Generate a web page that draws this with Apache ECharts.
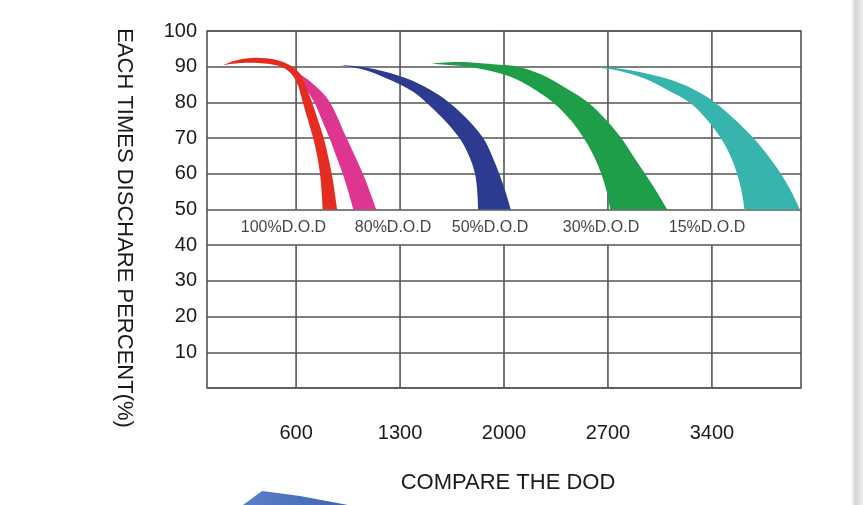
<!DOCTYPE html>
<html><head><meta charset="utf-8">
<script src="https://cdn.jsdelivr.net/npm/echarts@6/dist/echarts.min.js"></script>
<style>html,body{margin:0;padding:0;background:#fff}#c{width:863px;height:505px}</style>
</head><body><div id="c"></div>
<script>
// ---- data ----
const xTicks = [600, 1300, 2000, 2700, 3400];
const dodLabels = ['100%D.O.D', '80%D.O.D', '50%D.O.D', '30%D.O.D', '15%D.O.D'];
const dodLabelX = [515, 1253, 1906, 2653, 3367];
const dodLabelY = 45;
const labelBand = [40, 50];

// each band: outer edge (tip -> bottom) and inner edge (tip -> bottom), [cycles, percent]
const dod100Outer = [[110,90.5],[200,91.8],[327,92.5],[455,92.0],[545,90.7],[600,89.2],[640,87.0],[694,81.5],[740,76.0],[786,70],[820,64],[848,58.1],[876,50]];
const dod100Inner = [[110,90.5],[260,91.1],[410,90.8],[510,89.8],[574,87.7],[615,84.5],[645,80],[680,75],[715,70],[742,65],[761,60],[772,55],[779,50]];
const dod80Outer = [[500,90.6],[560,90.0],[606,88.5],[707,85.4],[828,80],[940,70],[1050,60],[1105,54],[1140,50]];
const dod80Inner = [[500,90.6],[600,87.6],[660,84.0],[723,80],[775,75],[825,70],[870,65],[914,60],[952,55],[986,50]];
const dod50Outer = [[901,90.5],[1050,89.9],[1200,88.6],[1350,86.6],[1500,83.6],[1630,80],[1760,75],[1860,70],[1920,65],[1968,60],[2010,55],[2046,50]];
const dod50Inner = [[901,90.5],[1080,88.9],[1250,86.0],[1380,83.2],[1476,80],[1600,75],[1700,70],[1765,65],[1805,60],[1820,55],[1826,50]];
const dod30Outer = [[1489,90.8],[1700,91.3],[1950,90.6],[2094,90],[2240,88],[2377,85],[2566,80],[2690,75],[2790,70],[2870,65],[2950,60],[3028,55],[3100,50]];
const dod30Inner = [[1489,90.8],[1650,90.4],[1820,89.6],[2000,87.8],[2150,85],[2330,80],[2450,75],[2537,70],[2605,65],[2655,60],[2692,55],[2716,50]];
const dod15Outer = [[2601,90.0],[2760,89.6],[2930,88.4],[3100,86.6],[3260,84.0],[3420,80],[3560,75],[3680,70],[3780,65],[3865,60],[3935,55],[3993,50]];
const dod15Inner = [[2601,90.0],[2780,88.8],[2950,86.6],[3100,83.5],[3250,80],[3370,75],[3460,70],[3525,65],[3570,60],[3600,55],[3620,50]];

const FONT = "'Liberation Sans', Arial, sans-serif";
const GRID_COLOR = '#555555';

function curveThrough(pts) {
  let d = '';
  for (let i = 0; i < pts.length - 1; i++) {
    const p0 = pts[i - 1] || pts[i], p1 = pts[i], p2 = pts[i + 1], p3 = pts[i + 2] || pts[i + 1];
    const c1 = [p1[0] + (p2[0] - p0[0]) / 6, p1[1] + (p2[1] - p0[1]) / 6];
    const c2 = [p2[0] - (p3[0] - p1[0]) / 6, p2[1] - (p3[1] - p1[1]) / 6];
    d += ' C' + c1[0].toFixed(2) + ' ' + c1[1].toFixed(2) + ' ' + c2[0].toFixed(2) + ' ' + c2[1].toFixed(2) + ' ' + p2[0].toFixed(2) + ' ' + p2[1].toFixed(2);
  }
  return d;
}

function band(name, outer, inner, color) {
  return {
    type: 'custom', name: name, z: 3, silent: true,
    coordinateSystem: 'cartesian2d',
    data: [outer[0]],
    renderItem: function (params, api) {
      const o = outer.map(function (p) { return api.coord(p); });
      const n = inner.slice().reverse().map(function (p) { return api.coord(p); });
      const d = 'M' + o[0][0].toFixed(2) + ' ' + o[0][1].toFixed(2) + curveThrough(o) +
        ' L' + n[0][0].toFixed(2) + ' ' + n[0][1].toFixed(2) + curveThrough(n) + ' Z';
      return { type: 'path', shape: { pathData: d }, style: { fill: color } };
    }
  };
}

const chart = echarts.init(document.getElementById('c'));
chart.setOption({
  backgroundColor: '#ffffff',
  animation: false,
  grid: { left: 207, right: 62, top: 31, bottom: 117, show: true, borderColor: GRID_COLOR, borderWidth: 1.6, backgroundColor: 'transparent' },
  xAxis: {
    type: 'value', min: 0, max: 4000,
    name: 'COMPARE THE DOD', nameLocation: 'middle', nameGap: 84,
    nameTextStyle: { fontSize: 22, fontFamily: FONT, color: '#1a1a1a', padding: [0, 0, 0, 8] },
    axisLine: { show: false }, axisTick: { show: false }, splitLine: { show: false },
    axisLabel: { customValues: xTicks, fontSize: 20, fontFamily: FONT, color: '#1a1a1a', margin: 35,
      formatter: function (v) { return String(v); } }
  },
  yAxis: {
    type: 'value', min: 0, max: 100, interval: 10,
    axisLine: { show: false }, axisTick: { show: false },
    splitLine: { show: true, lineStyle: { color: GRID_COLOR, width: 1.6 } },
    axisLabel: { fontSize: 20, fontFamily: FONT, color: '#1a1a1a', margin: 10,
      formatter: function (v) { return v === 0 ? '' : String(v); } }
  },
  graphic: [
    { type: 'text', x: 124, y: 228, rotation: -Math.PI / 2,
      style: { text: 'EACH TIMES DISCHARE PERCENT(%)', fontSize: 22, fontFamily: FONT, fill: '#1a1a1a', align: 'center', verticalAlign: 'middle' } },
    { type: 'rect', shape: { x: 851, y: 0, width: 12, height: 505 },
      style: { fill: new echarts.graphic.LinearGradient(0, 0, 1, 0, [
        { offset: 0, color: '#ffffff' }, { offset: 0.35, color: '#d6d6d6' }, { offset: 1, color: '#eeeeee' }]) } },
    { type: 'polygon', shape: { points: [[243, 505], [262, 491], [300, 496], [348, 505]] },
      style: { fill: new echarts.graphic.LinearGradient(0, 0, 1, 0, [
        { offset: 0, color: '#5a7fc7' }, { offset: 1, color: '#3f63b0' }]) } }
  ],
  series: [
    {
      type: 'custom', name: 'vgrid', z: 1, silent: true,
      coordinateSystem: 'cartesian2d',
      data: xTicks.map(function (v) { return [v, 0]; }),
      renderItem: function (params, api) {
        const x = api.value(0);
        const a = api.coord([x, 0]), b = api.coord([x, labelBand[0]]);
        const c = api.coord([x, labelBand[1]]), d = api.coord([x, 100]);
        const ls = { stroke: GRID_COLOR, lineWidth: 1.6 };
        return { type: 'group', children: [
          { type: 'line', shape: { x1: a[0], y1: a[1], x2: b[0], y2: b[1] }, style: ls },
          { type: 'line', shape: { x1: c[0], y1: c[1], x2: d[0], y2: d[1] }, style: ls }
        ] };
      }
    },
    band('80%D.O.D', dod80Outer, dod80Inner, '#de3590'),
    band('100%D.O.D', dod100Outer, dod100Inner, '#e62b21'),
    band('50%D.O.D', dod50Outer, dod50Inner, '#2c3a8f'),
    band('30%D.O.D', dod30Outer, dod30Inner, '#1f9e49'),
    band('15%D.O.D', dod15Outer, dod15Inner, '#37b4ad'),
    {
      type: 'scatter', name: 'labels', z: 4, silent: true, symbolSize: 0,
      data: dodLabels.map(function (t, i) { return { value: [dodLabelX[i], dodLabelY], name: t }; }),
      label: { show: true, position: 'inside', formatter: '{b}', fontSize: 16, fontFamily: FONT, color: '#111111' }
    }
  ]
});
</script></body></html>
